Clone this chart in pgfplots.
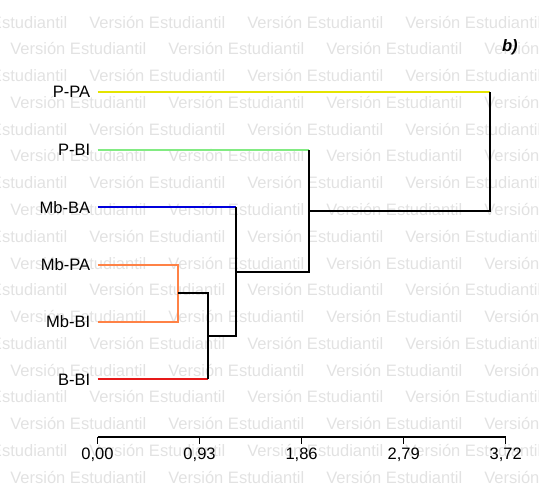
\documentclass[border=0pt]{standalone}
\usepackage{fontspec}
\setmainfont{Liberation Sans}
\usepackage{pgfplots}
\pgfplotsset{compat=1.18}
\definecolor{wm}{RGB}{226,226,226}
\definecolor{lineyellow}{RGB}{228,228,0}
\definecolor{linegreen}{RGB}{130,235,130}
\definecolor{lineblue}{RGB}{0,0,220}
\definecolor{lineorange}{RGB}{255,130,70}
\definecolor{linered}{RGB}{230,25,25}
\newcommand{\lblfont}{\fontsize{12.4}{14}\selectfont}

\begin{document}
\begin{tikzpicture}[x=0.75pt,y=0.75pt]
  \useasboundingbox (0,0) rectangle (539,484);
  % watermark rows
  \begin{scope}
    \clip (0,0) rectangle (539,484);
    \foreach \k in {0,...,17} {
      \pgfmathsetmacro\yy{484-28.2-26.76*\k}
      \pgfmathsetmacro\xo{mod(\k,2)==0 ? -69 : 10}
      \foreach \j in {0,...,4} {
        \node[anchor=base west, inner sep=0pt, text=wm, font=\lblfont]
          at ({\xo+158*\j},\yy) {Versión Estudiantil};
      }
    }
  \end{scope}
  \node[anchor=base east, inner sep=0pt, font=\lblfont\bfseries\itshape]
    at (518,432.5) {b)};

  \begin{axis}[
    at={(73.125pt,35.28pt)}, anchor=south west,
    scale only axis, width=306.15pt, height=301.67pt,
    xmin=0, xmax=3.72, ymin=0, ymax=7,
    clip=false,
    axis x line*=bottom, axis y line*=left,
    y axis line style={draw=none},
    x axis line style={line width=1.1pt},
    tick align=outside, major tick length=5.25pt,
    xtick={0,0.93,1.86,2.79,3.72},
    xticklabels={{0,00},{0,93},{1,86},{2,79},{3,72}},
    xtick style={line width=1.1pt, black},
    ytick={1,2,3,4,5,6},
    yticklabels={B-BI,Mb-BI,Mb-PA,Mb-BA,P-BI,P-PA},
    ytick style={draw=none},
    every tick label/.append style={font=\lblfont, inner sep=0pt},
    xticklabel style={anchor=north, yshift=-3pt},
    yticklabel style={anchor=east},
    every axis plot/.append style={line width=1.5pt},
  ]
    \addplot[color=lineyellow] coordinates {(0,6) (3.573,6)};
    \addplot[color=linegreen] coordinates {(0,5) (1.926,5)};
    \addplot[color=lineblue] coordinates {(0,4) (1.26,4)};
    \addplot[color=lineorange] coordinates {(0,3) (0.735,3) (0.735,2) (0,2)};
    \addplot[color=linered] coordinates {(0,1) (1.008,1)};
    \addplot[color=black] coordinates {(0.735,2.5) (1.008,2.5) (1.008,1)};
    \addplot[color=black] coordinates {(1.008,1.75) (1.26,1.75) (1.26,4)};
    \addplot[color=black] coordinates {(1.26,2.875) (1.926,2.875) (1.926,5)};
    \addplot[color=black] coordinates {(1.926,3.9375) (3.573,3.9375) (3.573,6)};
  \end{axis}
\end{tikzpicture}
\end{document}
